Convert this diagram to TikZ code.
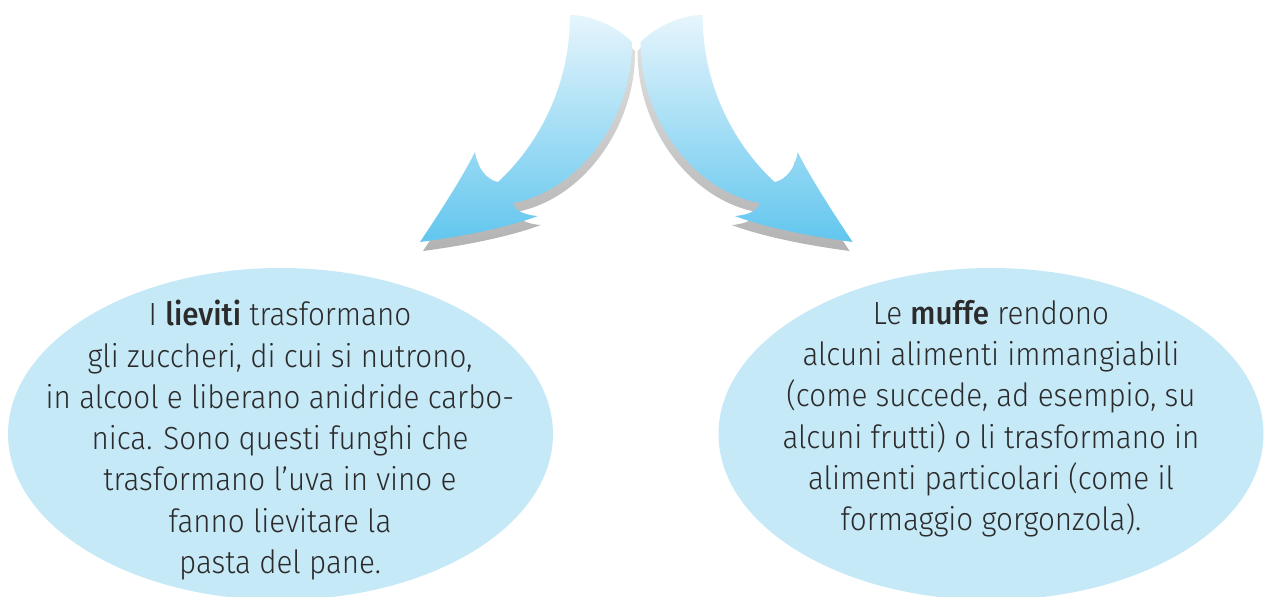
\documentclass[tikz,border=0pt]{standalone}
\usepackage{fontspec}
\setmainfont{Fira Sans}[UprightFont=* Light, BoldFont=* Medium, FakeStretch=0.925]
\usetikzlibrary{shapes.geometric}
\definecolor{bubblefill}{HTML}{C6E9F8}
\definecolor{ink}{HTML}{2B2B2B}
\definecolor{arrtop}{HTML}{E6F5FC}
\definecolor{arrbot}{HTML}{62C6EE}
\tikzset{
  bubble/.style={ellipse, fill=bubblefill, draw=none, minimum width=545pt, minimum height=332pt, inner sep=0pt},
  txt/.style={align=center, text=ink, font=\fontsize{32}{41.3}\selectfont, inner sep=0pt, anchor=north},
  arrowbody/.style={top color=arrtop, bottom color=arrbot, draw=none},
  arrowshadow/.style={top color=gray!22, bottom color=gray!60, draw=none},
}
\newcommand\myarrowpath{(570,15) .. controls (590,15) and (615,25) .. (632,42)
  .. controls (633,115) and (582,190) .. (513,203)
  .. controls (514,209) and (522,215) .. (538,216)
  .. controls (500,230) and (450,238) .. (420,242)
  .. controls (440,212) and (462,178) .. (475,152)
  .. controls (477,168) and (487,180) .. (498,182)
  .. controls (535,148) and (570,90) .. (570,15) -- cycle}
\begin{document}
\begin{tikzpicture}[x=1pt, y=-1pt]
\useasboundingbox (0,0) rectangle (1264,597);
% left arrow
\path[arrowshadow, shift={(3,9)}] \myarrowpath;
\path[arrowbody] \myarrowpath;
% right arrow (mirror)
\begin{scope}[xshift=1272.6pt, xscale=-1]
\path[arrowshadow, shift={(3,9)}] \myarrowpath;
\path[arrowbody] \myarrowpath;
\end{scope}
% bubbles
\node[bubble] (lbub) at (280.5,434) {};
\node[bubble] (rbub) at (991,434) {};
\node[txt] (ltxt) at (280,300) {I \textbf{lieviti} trasformano\\
gli zuccheri, di cui si nutrono,\\
in alcool e liberano anidride carbo-\\
nica. Sono questi funghi che\\
trasformano l'uva in vino e\\
fanno lievitare la\\
pasta del pane.};
\node[txt] (rtxt) at (991,300) {Le \textbf{muffe} rendono\\
alcuni alimenti immangiabili\\
(come succede, ad esempio, su\\
alcuni frutti) o li trasformano in\\
alimenti particolari (come il\\
formaggio gorgonzola).};
\end{tikzpicture}
\end{document}
